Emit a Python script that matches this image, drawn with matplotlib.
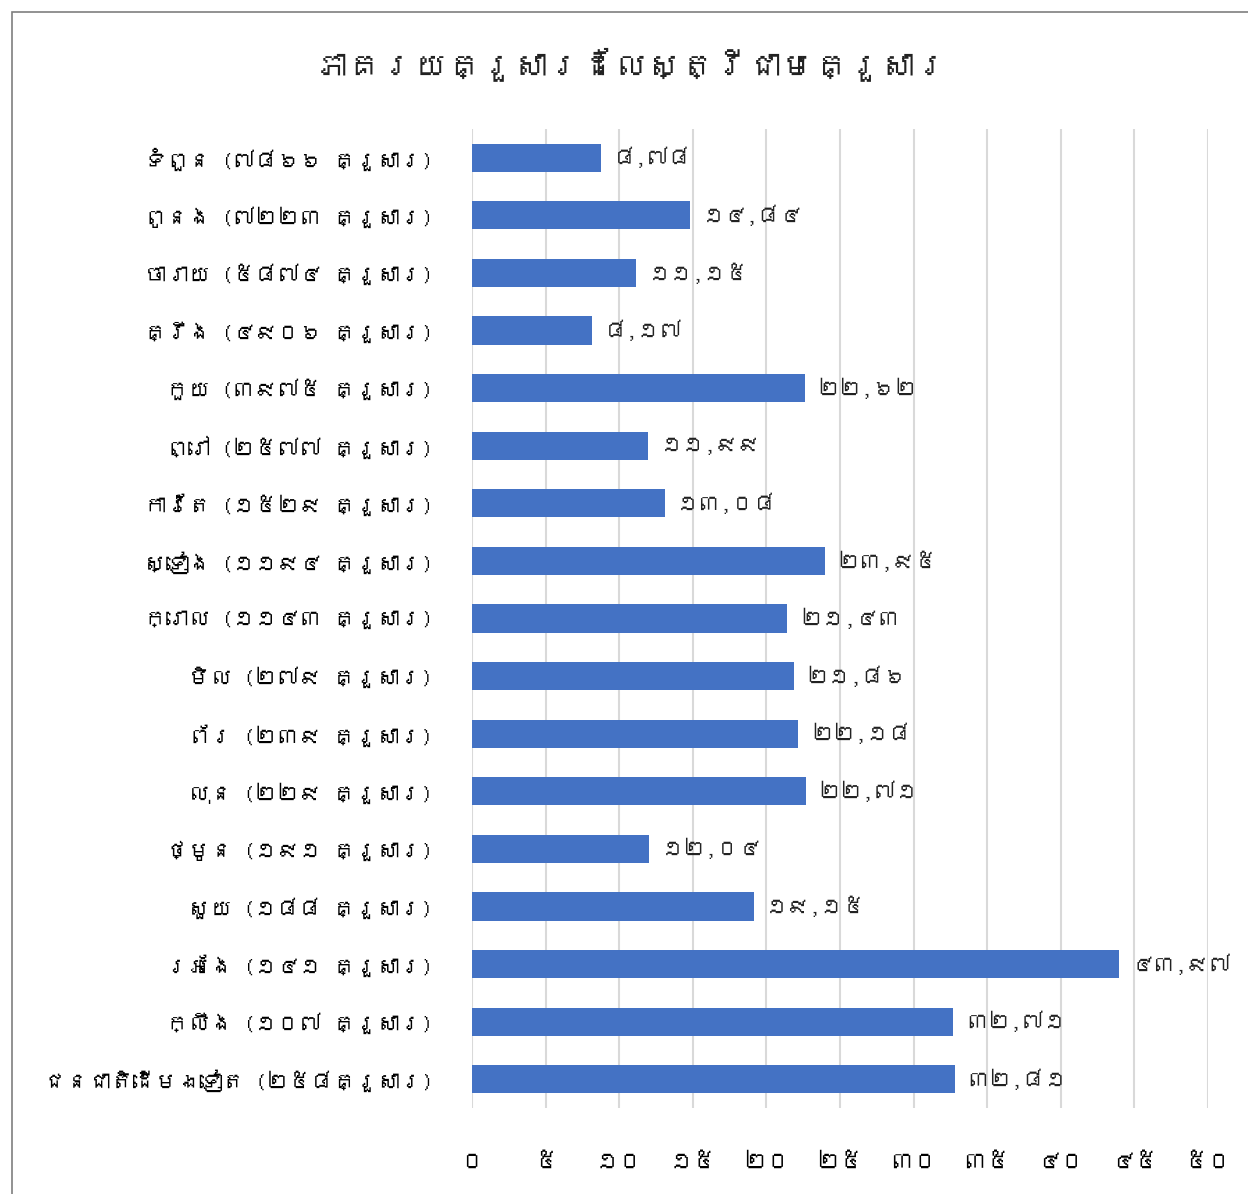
import matplotlib
matplotlib.use('Agg')
import matplotlib.pyplot as plt
from matplotlib import font_manager
from matplotlib.ft2font import FT2Font
from matplotlib.patches import Rectangle

# Data.
TITLE = 'ភាគរយគ្រួសារដែលស្ត្រីជាមេគ្រួសារ'
groups = ['ទំពួន (៧៨៦៦ គ្រួសារ)', 'ពូនង (៧២២៣ គ្រួសារ)', 'ចារាយ (៥៨៧៤ គ្រួសារ)',
          'គ្រឹង (៤៩០៦ គ្រួសារ)', 'កួយ (៣៩៧៥ គ្រួសារ)', 'ព្រៅ (២៥៧៧ គ្រួសារ)',
          'កាវ៉ែត (១៥២៩ គ្រួសារ)', 'ស្ទៀង (១១៩៤ គ្រួសារ)', 'ក្រោល (១១៤៣ គ្រួសារ)',
          'មិល (២៧៩ គ្រួសារ)', 'ព័រ (២៣៩ គ្រួសារ)', 'លុន (២២៩ គ្រួសារ)',
          'ថ្មូន (១៩១ គ្រួសារ)', 'សួយ (១៨៨ គ្រួសារ)', 'រអែង (១៤១ គ្រួសារ)',
          'ក្លឹង (១០៧ គ្រួសារ)', 'ជនជាតិដើមឯទៀត (២៥៨គ្រួសារ)']
percent = [8.78, 14.84, 11.15, 8.17, 22.62, 11.99, 13.08, 23.95, 21.43,
           21.86, 22.18, 22.71, 12.04, 19.15, 43.97, 32.71, 32.81]
x_ticks = [0, 5, 10, 15, 20, 25, 30, 35, 40, 45, 50]

KHMER_DIGITS = str.maketrans('0123456789', '០១២៣៤៥៦៧៨៩')


def khmer_num(v, decimals=None):
    s = f'{v:.{decimals}f}' if decimals is not None else str(v)
    return s.replace('.', ',').translate(KHMER_DIGITS)


def find_khmer_font():
    # Look for any installed font that has Khmer glyphs.
    for f in font_manager.fontManager.ttflist:
        try:
            ft = FT2Font(f.fname)
            if ft.get_char_index(0x1780) and ft.get_char_index(0x17E1):
                return f.name
        except Exception:
            continue
    return None


kh = find_khmer_font()
families = [kh, 'DejaVu Sans'] if kh else ['DejaVu Sans']
plt.rcParams['font.family'] = families

fig = plt.figure(figsize=(12.48, 11.94), dpi=100)
ax = fig.add_axes([0.3782, 0.072, 0.5897, 0.820])

# Outer chart frame.
fig.patches.append(Rectangle((12 / 1248, -0.05), 1.1, 1 - 12 / 1194 + 0.05,
                             transform=fig.transFigure, fill=False,
                             edgecolor='#7f7f7f', linewidth=1.2))

y = list(range(len(groups)))
ax.barh(y, percent, height=0.49, color='#4472C4', zorder=3)

for yi, v in zip(y, percent):
    ax.annotate(khmer_num(v, 2), xy=(v, yi), xytext=(9, 0),
                textcoords='offset points', va='center', ha='left',
                fontsize=16, color='#222222')

ax.set_xlim(0, 50)
ax.set_ylim(len(groups) - 0.5, -0.5)
ax.set_yticks(y)
ax.set_yticklabels(groups, fontsize=16)
ax.set_xticks(x_ticks)
ax.set_xticklabels([khmer_num(t) for t in x_ticks], fontsize=17)
ax.tick_params(axis='y', length=0, pad=28)
ax.tick_params(axis='x', length=0, pad=32)
ax.grid(axis='x', color='#d9d9d9', linewidth=1.5, zorder=0)
for s in ax.spines.values():
    s.set_visible(False)

fig.text(0.506, 0.946, TITLE, ha='center', va='center', fontsize=24, color='#222222')

fig.savefig('out.png', dpi=100)
